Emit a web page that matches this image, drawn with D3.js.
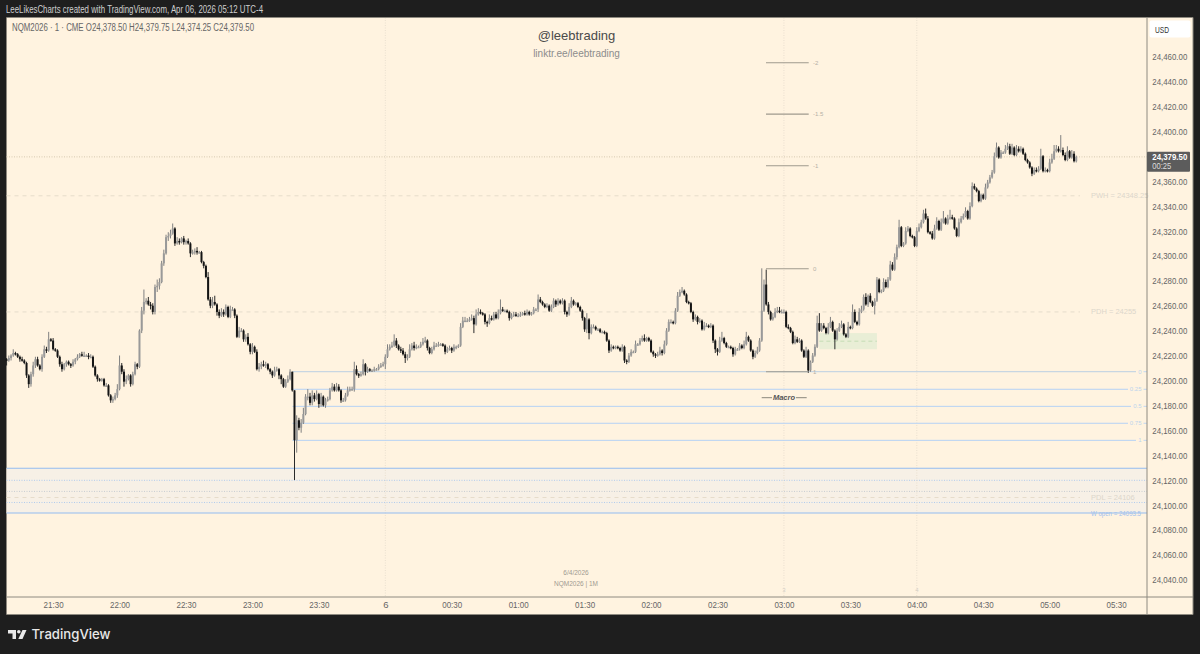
<!DOCTYPE html>
<html>
<head>
<meta charset="utf-8">
<script src="https://cdn.jsdelivr.net/npm/d3@7"></script>
<style>
  html, body { margin: 0; padding: 0; background: #1e1e1e; }
  svg { display: block; }
  text { font-family: "Liberation Sans", sans-serif; }
</style>
</head>
<body>
<div id="chart"></div>
<script>
// closes, 10 bars a row, first bar is 21:09
const closes = [
  24216,24218,24220,24222,24221,24219,24217,24216,24214,24204,
  24197,24205,24212,24217,24212,24209,24219,24225,24224,24233,
  24232,24225,24224,24219,24213,24209,24213,24215,24213,24212,
  24215,24217,24219,24221,24220,24220,24220,24219,24219,24211,
  24204,24201,24200,24201,24196,24196,24188,24184,24185,24188,
  24193,24212,24207,24199,24201,24204,24197,24205,24213,24211,
  24240,24256,24263,24264,24261,24260,24255,24275,24276,24279,
  24294,24302,24315,24316,24318,24322,24310,24312,24311,24314,
  24311,24312,24310,24302,24303,24304,24303,24303,24295,24292,
  24283,24265,24260,24263,24261,24255,24252,24255,24253,24259,
  24251,24257,24257,24252,24235,24240,24240,24233,24235,24229,
  24223,24227,24223,24209,24211,24213,24212,24213,24209,24207,
  24204,24208,24209,24204,24201,24195,24199,24201,24207,24192,
  24152,24168,24162,24166,24173,24187,24187,24182,24188,24185,
  24189,24181,24187,24180,24184,24185,24192,24195,24192,24195,
  24192,24184,24184,24188,24192,24193,24193,24209,24205,24204,
  24205,24213,24207,24209,24208,24208,24209,24209,24211,24212,
  24213,24219,24225,24227,24228,24232,24228,24225,24224,24221,
  24218,24219,24225,24228,24226,24227,24227,24229,24231,24232,
  24226,24222,24225,24228,24228,24229,24229,24228,24223,24225,
  24226,24224,24227,24227,24228,24243,24248,24248,24248,24249,
  24250,24245,24253,24255,24254,24253,24247,24246,24250,24249,
  24253,24250,24254,24257,24256,24256,24255,24250,24252,24253,
  24252,24252,24253,24254,24253,24255,24253,24254,24257,24257,
  24265,24263,24261,24259,24260,24256,24259,24264,24261,24264,
  24262,24264,24255,24253,24259,24264,24261,24262,24259,24256,
  24250,24241,24249,24238,24243,24243,24241,24241,24239,24239,
  24238,24232,24224,24227,24226,24227,24226,24224,24227,24216,
  24215,24220,24223,24223,24229,24229,24232,24234,24232,24234,
  24232,24223,24221,24220,24221,24224,24222,24229,24240,24247,
  24247,24246,24256,24268,24271,24272,24269,24263,24262,24255,
  24249,24251,24247,24248,24241,24244,24244,24243,24244,24232,
  24225,24223,24232,24234,24230,24227,24227,24226,24221,24225,
  24225,24228,24226,24229,24235,24232,24224,24219,24222,24224,
  24232,24256,24277,24261,24255,24249,24251,24255,24256,24255,
  24255,24255,24243,24242,24239,24230,24233,24231,24232,24224,
  24219,24224,24208,24215,24220,24227,24246,24240,24244,24242,
  24238,24243,24247,24240,24233,24240,24243,24245,24237,24235,
  24243,24242,24255,24247,24245,24255,24257,24267,24261,24268,
  24263,24260,24264,24281,24271,24272,24279,24275,24281,24293,
  24289,24299,24307,24323,24308,24310,24320,24322,24316,24315,
  24308,24320,24323,24327,24334,24330,24319,24318,24314,24322,
  24328,24321,24327,24330,24326,24330,24331,24330,24322,24316,
  24327,24330,24332,24336,24330,24340,24356,24354,24352,24344,
  24349,24346,24355,24359,24363,24367,24380,24387,24379,24383,
  24383,24386,24388,24382,24387,24381,24386,24384,24386,24382,
  24377,24375,24371,24366,24369,24368,24370,24380,24368,24369,
  24368,24375,24378,24384,24386,24384,24385,24381,24377,24384,
  24379,24382,24376,24379.5
];
const wickUp = [
  1,2,1,3,1,1,1,2,1,1,
  1,2,3,2,2,1,2,3,2,6,
  1,2,1,1,1,2,1,1,1,1,
  2,1,2,1,2,3,1,2,2,1,
  1,1,1,1,1,2,1,1,2,2,
  4,8,2,2,3,1,1,2,2,1,
  1,3,10,2,3,2,2,2,5,3,
  2,3,2,3,3,4,1,3,2,1,
  2,1,2,1,2,2,3,1,1,1,
  1,4,2,4,5,1,2,3,2,2,
  1,3,2,1,1,3,2,1,2,3,
  1,3,1,2,3,2,3,2,1,1,
  1,3,2,1,1,1,2,3,2,0,
  0,4,2,3,5,2,6,3,4,2,
  3,1,3,1,2,2,2,3,2,3,
  2,1,2,2,3,2,2,6,3,1,
  2,4,1,2,1,1,2,1,2,2,
  2,2,4,2,3,5,2,1,2,2,
  2,2,4,2,3,2,1,2,3,3,
  1,1,2,3,2,2,1,1,1,2,
  2,1,2,1,1,3,3,3,2,2,
  3,2,4,3,2,1,1,1,3,2,
  2,2,3,8,2,1,1,1,2,2,
  2,2,2,1,2,2,1,1,2,1,
  4,2,1,1,2,1,2,2,1,2,
  1,2,1,1,3,3,1,1,1,1,
  1,1,5,1,2,2,1,1,1,1,
  1,1,1,2,1,1,1,1,2,1,
  1,2,2,1,3,1,2,2,3,1,
  1,1,1,1,2,3,1,3,2,2,
  2,1,2,3,2,3,1,1,1,1,
  1,2,1,2,1,3,2,1,2,1,
  1,1,3,5,1,1,1,1,1,2,
  1,2,1,3,4,1,1,1,2,3,
  2,34,4,12,2,1,3,3,3,3,
  2,2,1,2,1,1,3,2,2,1,
  1,3,1,1,2,2,6,8,2,2,
  1,3,4,1,1,2,3,3,1,1,
  4,1,6,2,1,3,3,2,3,1,
  2,1,2,2,1,1,3,2,2,3,
  2,3,2,6,1,1,3,2,1,1,
  1,3,3,2,3,4,2,1,2,3,
  3,1,3,6,1,3,6,2,1,1,
  3,2,2,3,1,3,3,2,1,1,
  1,1,3,2,2,2,3,4,1,2,
  1,3,3,2,3,1,3,2,2,1,
  1,1,1,1,2,2,2,6,1,2,
  1,3,4,5,3,2,12,2,2,4,
  1,3,2,1
];
const wickDn = [
  4,1,2,1,1,1,2,1,1,2,
  3,2,2,2,1,1,2,1,2,1,
  1,1,1,1,2,2,1,2,1,2,
  1,2,1,1,1,1,1,2,1,1,
  1,2,1,1,1,1,1,2,2,1,
  2,1,2,4,2,1,2,1,1,2,
  1,2,3,2,1,3,2,2,4,3,
  1,2,1,3,2,1,2,1,2,1,
  2,2,1,3,1,2,2,1,1,2,
  1,1,2,2,1,3,2,1,2,1,
  1,1,1,2,1,1,1,2,2,1,
  2,2,1,1,2,2,1,2,1,2,
  2,1,1,3,4,1,1,1,1,1,
  32,10,2,4,1,1,3,2,2,2,
  1,3,2,1,2,1,1,1,1,1,
  1,2,1,1,1,1,1,2,1,2,
  1,1,3,1,1,1,1,1,1,1,
  1,4,1,1,1,1,2,1,2,1,
  4,2,1,1,2,1,1,1,1,1,
  2,1,1,1,1,1,1,1,2,1,
  1,2,1,2,1,1,1,1,1,1,
  1,7,1,1,1,1,2,3,1,1,
  1,1,1,1,1,1,1,2,1,1,
  1,1,1,1,1,1,1,1,1,1,
  2,1,1,1,1,1,1,1,2,1,
  1,1,2,2,1,1,1,1,1,1,
  2,2,3,5,1,1,1,1,1,1,
  1,1,2,1,1,1,1,1,1,2,
  2,1,1,1,1,1,1,1,1,1,
  1,1,2,2,1,1,2,1,1,1,
  1,1,1,1,1,1,1,1,1,1,
  2,1,2,1,1,1,1,1,1,2,
  3,3,1,1,1,1,1,1,2,1,
  1,1,1,1,1,1,1,2,1,1,
  1,1,1,1,2,1,1,1,1,1,
  1,1,1,1,1,1,1,1,1,1,
  1,1,2,1,1,1,1,1,1,1,
  1,1,1,1,8,1,1,1,1,1,
  1,1,1,1,1,1,1,1,1,2,
  1,1,7,1,1,1,1,1,1,1,
  1,1,2,1,1,1,1,1,1,1,
  1,1,1,1,1,1,1,1,1,1,
  1,1,1,1,1,1,1,1,1,1,
  1,1,1,1,1,1,1,1,1,1,
  1,1,1,1,1,1,1,1,1,1,
  1,1,1,1,1,1,1,1,1,1,
  1,1,1,2,1,1,1,1,1,1,
  1,1,1,1,1,1,1,1,1,1,
  1,1,1,1
];

const yTicks = [24460,24440,24420,24400,24360,24340,24320,24300,24280,24260,24240,24220,24200,24180,24160,24140,24120,24100,24080,24060,24040];
const timeTicks = [-150,-120,-90,-60,-30,0,30,60,90,120,150,180,210,240,270,300,330];
const timeLabels = ["21:30","22:00","22:30","23:00","23:30","6","00:30","01:00","01:30","02:00","02:30","03:00","03:30","04:00","04:30","05:00","05:30"];

// session levels
const dashedLevels = [24348.25, 24255, 24106];
const dashedNames = ["PWH = 24348.25", "PDH = 24255", "PDL = 24106"];
const weekOpen = 24093.5;
const zoneTop = 24129.5;
const zoneDots = [24119.8, 24110.9, 24102];

// long fib off the 23:20 low
const fibLevels = [24207, 24192.9, 24179.2, 24165.6, 24151.9];
const fibNames = ["0", "0.25", "0.5", "0.75", "1"];
const fibEnds = [1136, 1128, 1131, 1128, 1136];

// small fib on the macro
const macroLevels = [24455.1, 24413.8, 24372.4, 24289.7, 24207];
const macroNames = ["-2", "-1.5", "-1", "0", "1"];

const gapBox = [24238, 24225];
const gapTimes = [196, 222];
const gapMid = 24231.5;
const lastPrice = 24379.5;
const dayLines = [0, 180, 240];

const width = 1200, height = 654;
const pane = { left: 6.5, right: 1147, top: 17.5, bottom: 597 };

const x = d3.scaleLinear().domain([0, 330]).range([385.3, 385.3 + 330 * 2.2146]);
const y = d3.scaleLinear().domain([24460, 24040]).range([56.6, 579.7]);

const svg = d3.select("#chart").append("svg")
    .attr("width", width)
    .attr("height", height);

svg.append("rect").attr("width", width).attr("height", height).attr("fill", "#1e1e1e");
svg.append("rect")
    .attr("x", pane.left).attr("y", pane.top)
    .attr("width", 1193 - pane.left).attr("height", 614.5 - pane.top)
    .attr("fill", "#fff3e0");

// zone and green box under everything
svg.append("rect")
    .attr("x", pane.left).attr("width", pane.right - pane.left)
    .attr("y", y(zoneTop)).attr("height", y(weekOpen) - y(zoneTop))
    .attr("fill", "#f7f0e6");
svg.append("rect")
    .attr("x", x(gapTimes[0])).attr("width", x(gapTimes[1]) - x(gapTimes[0]))
    .attr("y", y(gapBox[0])).attr("height", y(gapBox[1]) - y(gapBox[0]))
    .attr("fill", "#e9eed6");
svg.append("line")
    .attr("x1", x(gapTimes[0])).attr("x2", x(gapTimes[1]))
    .attr("y1", y(gapMid)).attr("y2", y(gapMid))
    .attr("stroke", "#c5dcb6").attr("stroke-dasharray", "4 3");

// vertical session lines
dayLines.forEach((t) => {
    svg.append("line")
        .attr("x1", x(t)).attr("x2", x(t))
        .attr("y1", pane.top).attr("y2", pane.bottom)
        .attr("stroke", "#e9dfcf").attr("stroke-dasharray", "1 1.5");
});
svg.append("text").attr("x", x(180)).attr("y", 592).attr("text-anchor", "middle")
    .attr("font-size", 6).attr("fill", "#d5d0c6").text("3");
svg.append("text").attr("x", x(240)).attr("y", 592).attr("text-anchor", "middle")
    .attr("font-size", 6).attr("fill", "#d5d0c6").text("4");

// last price
svg.append("line")
    .attr("x1", pane.left).attr("x2", pane.right)
    .attr("y1", y(lastPrice)).attr("y2", y(lastPrice))
    .attr("stroke", "#d6c8b0").attr("stroke-dasharray", "1 1.5");

// PWH / PDH / PDL
dashedLevels.forEach((v, i) => {
    svg.append("line")
        .attr("x1", pane.left).attr("x2", 1080)
        .attr("y1", y(v)).attr("y2", y(v))
        .attr("stroke", "#e6dccb").attr("stroke-dasharray", "4 4");
    svg.append("text")
        .attr("x", 1091).attr("y", y(v) + 2.5)
        .attr("font-size", 7.5).attr("fill", "#dcd6cb")
        .text(dashedNames[i]);
});

// zone lines
svg.append("line")
    .attr("x1", pane.left).attr("x2", pane.right)
    .attr("y1", y(zoneTop)).attr("y2", y(zoneTop))
    .attr("stroke", "#93bbf0").attr("stroke-width", 1.1);
zoneDots.forEach((v, i) => {
    svg.append("line")
        .attr("x1", pane.left).attr("x2", pane.right)
        .attr("y1", y(v)).attr("y2", y(v))
        .attr("stroke", i === 1 ? "#c5cbd0" : "#b0cbee")
        .attr("stroke-dasharray", "1 1.5");
});
svg.append("line")
    .attr("x1", pane.left).attr("x2", pane.right)
    .attr("y1", y(weekOpen)).attr("y2", y(weekOpen))
    .attr("stroke", "#93bbf0").attr("stroke-width", 1.1);
svg.append("text")
    .attr("x", 1091).attr("y", y(weekOpen) + 2.5)
    .attr("font-size", 7.5).attr("fill", "#9fc0ee")
    .attr("textLength", 50).attr("lengthAdjust", "spacingAndGlyphs")
    .text("W open = 24093.5");

// long fib
fibLevels.forEach((v, i) => {
    svg.append("line")
        .attr("x1", 292.5).attr("x2", fibEnds[i])
        .attr("y1", y(v)).attr("y2", y(v))
        .attr("stroke", i === 0 ? "#c8d6e2" : "#b5d2f5")
        .attr("stroke-width", i === 0 ? 1.3 : 1);
    svg.append("line")
        .attr("x1", 1143.5).attr("x2", pane.right)
        .attr("y1", y(v)).attr("y2", y(v))
        .attr("stroke", "#c0d7f2");
    svg.append("text")
        .attr("x", 1141.5).attr("y", y(v) + 2)
        .attr("text-anchor", "end")
        .attr("font-size", 6).attr("fill", "#bcd3ec")
        .text(fibNames[i]);
});

// candles
const bars = closes.map((c, i) => {
    const o = i === 0 ? c + 1 : closes[i - 1];
    return {
        t: i - 171,
        o: o,
        c: c,
        h: Math.max(o, c) + (wickUp[i] ?? 1),
        l: Math.min(o, c) - (wickDn[i] ?? 1)
    };
});

const upColor = "#999999", downColor = "#141414";
const candle = svg.append("g").selectAll("g").data(bars).enter().append("g");
candle.append("line")
    .attr("x1", d => x(d.t)).attr("x2", d => x(d.t))
    .attr("y1", d => y(d.h)).attr("y2", d => y(d.l))
    .attr("stroke", d => d.c >= d.o ? "#808080" : "#2a2a2a")
    .attr("stroke-width", 1);
candle.append("rect")
    .attr("x", d => x(d.t) - 1)
    .attr("width", 2)
    .attr("y", d => y(Math.max(d.o, d.c)))
    .attr("height", d => Math.max(1.5, Math.abs(y(d.o) - y(d.c))))
    .attr("fill", d => d.c >= d.o ? upColor : downColor);

// small fib, drawn over the candles
macroLevels.forEach((v, i) => {
    svg.append("line")
        .attr("x1", 766).attr("x2", 808.7)
        .attr("y1", y(v)).attr("y2", y(v))
        .attr("stroke", "#9f9a8e").attr("stroke-width", 1.1);
    svg.append("text")
        .attr("x", 813).attr("y", y(v) + 2)
        .attr("font-size", 6).attr("fill", "#b5b0a6")
        .text(macroNames[i]);
});

// macro label
svg.append("line").attr("x1", 761.7).attr("x2", 772).attr("y1", 397.7).attr("y2", 397.7)
    .attr("stroke", "#8b877c").attr("stroke-width", 1);
svg.append("line").attr("x1", 796).attr("x2", 806.7).attr("y1", 397.7).attr("y2", 397.7)
    .attr("stroke", "#8b877c").attr("stroke-width", 1);
svg.append("text").attr("x", 784).attr("y", 400.3).attr("text-anchor", "middle")
    .attr("font-size", 7.5).attr("font-style", "italic").attr("font-weight", "bold")
    .attr("fill", "#555").text("Macro");

// watermark
svg.append("text").attr("x", 576.5).attr("y", 40).attr("text-anchor", "middle")
    .attr("font-size", 13).attr("fill", "#4a4a4a").text("@leebtrading");
svg.append("text").attr("x", 576.5).attr("y", 57).attr("text-anchor", "middle")
    .attr("font-size", 10).attr("fill", "#8c8c8c").text("linktr.ee/leebtrading");
svg.append("text").attr("x", 576).attr("y", 575).attr("text-anchor", "middle")
    .attr("font-size", 6.5).attr("fill", "#a09a90").text("6/4/2026");
svg.append("text").attr("x", 576).attr("y", 586).attr("text-anchor", "middle")
    .attr("font-size", 6.5).attr("fill", "#a09a90").text("NQM2026 | 1M");

// axes
const yAxis = d3.axisRight(y).tickValues(yTicks).tickSize(0).tickPadding(0)
    .tickFormat(d3.format(",.2f"));
const gy = svg.append("g").attr("transform", "translate(1152.3,0)").call(yAxis);
gy.select(".domain").remove();
gy.selectAll("text").attr("font-size", 9.5).attr("fill", "#666")
    .attr("textLength", 35).attr("lengthAdjust", "spacingAndGlyphs")
    .style("font-family", '"Liberation Sans", sans-serif');

const xAxis = d3.axisBottom(x).tickValues(timeTicks).tickSize(0).tickPadding(0)
    .tickFormat((d, i) => timeLabels[i]);
const gx = svg.append("g").attr("transform", "translate(0,601.5)").call(xAxis);
gx.select(".domain").remove();
gx.selectAll("text").attr("font-size", 9.5).attr("fill", "#666")
    .style("font-family", '"Liberation Sans", sans-serif')
    .filter((d, i) => timeLabels[i].length > 1)
    .attr("textLength", 20).attr("lengthAdjust", "spacingAndGlyphs");

// pane borders
const border = "#8e8a80";
svg.append("line").attr("x1", pane.left).attr("x2", 1193).attr("y1", pane.top).attr("y2", pane.top).attr("stroke", border);
svg.append("line").attr("x1", pane.left).attr("x2", 1193).attr("y1", pane.bottom).attr("y2", pane.bottom).attr("stroke", border);
svg.append("line").attr("x1", pane.left).attr("x2", 1193).attr("y1", 614.5).attr("y2", 614.5).attr("stroke", border);
svg.append("line").attr("x1", pane.right).attr("x2", pane.right).attr("y1", pane.top).attr("y2", 614.5).attr("stroke", border);
svg.append("line").attr("x1", 1193).attr("x2", 1193).attr("y1", pane.top).attr("y2", 614.5).attr("stroke", border);

// USD button
svg.append("rect").attr("x", 1149.5).attr("y", 20.5).attr("width", 41).attr("height", 17).attr("rx", 2).attr("fill", "#fff");
svg.append("text").attr("x", 1155).attr("y", 32.5).attr("font-size", 9.5).attr("fill", "#333")
    .attr("textLength", 14).attr("lengthAdjust", "spacingAndGlyphs").text("USD");

// last price badge
svg.append("rect").attr("x", pane.right).attr("y", 151.7).attr("width", 43).attr("height", 20).attr("rx", 1).attr("fill", "#5c5c5c");
svg.append("text").attr("x", 1152.3).attr("y", 160).attr("font-size", 9.5).attr("font-weight", "bold").attr("fill", "#fff")
    .attr("textLength", 35).attr("lengthAdjust", "spacingAndGlyphs").text("24,379.50");
svg.append("text").attr("x", 1152.3).attr("y", 169).attr("font-size", 9.5).attr("fill", "#ddd")
    .attr("textLength", 19).attr("lengthAdjust", "spacingAndGlyphs").text("00:25");

// header and legend
svg.append("text").attr("x", 6).attr("y", 13).attr("font-size", 10).attr("fill", "#cfcfcf")
    .attr("textLength", 257).attr("lengthAdjust", "spacingAndGlyphs")
    .text("LeeLikesCharts created with TradingView.com, Apr 06, 2026 05:12 UTC-4");
svg.append("text").attr("x", 12).attr("y", 30.5).attr("font-size", 10).attr("fill", "#666")
    .attr("textLength", 242).attr("lengthAdjust", "spacingAndGlyphs")
    .text("NQM2026 · 1 · CME  O24,378.50  H24,379.75  L24,374.25  C24,379.50");

// TradingView logo
const logo = svg.append("g").attr("fill", "#e8e8e8");
logo.append("path").attr("d", "M8 630h8v9h-3.5v-5.5h-4.5z");
logo.append("circle").attr("cx", 18.8).attr("cy", 631.8).attr("r", 1.8);
logo.append("path").attr("d", "M22.5 630h4l-4 9h-4.2z");
svg.append("text").attr("x", 31.5).attr("y", 639).attr("font-size", 13.5)
    .attr("fill", "#e8e8e8").style("font-family", '"Inter", "Liberation Sans", sans-serif')
    .attr("font-weight", 500).attr("textLength", 79).attr("lengthAdjust", "spacingAndGlyphs")
    .text("TradingView");
</script>
</body>
</html>
